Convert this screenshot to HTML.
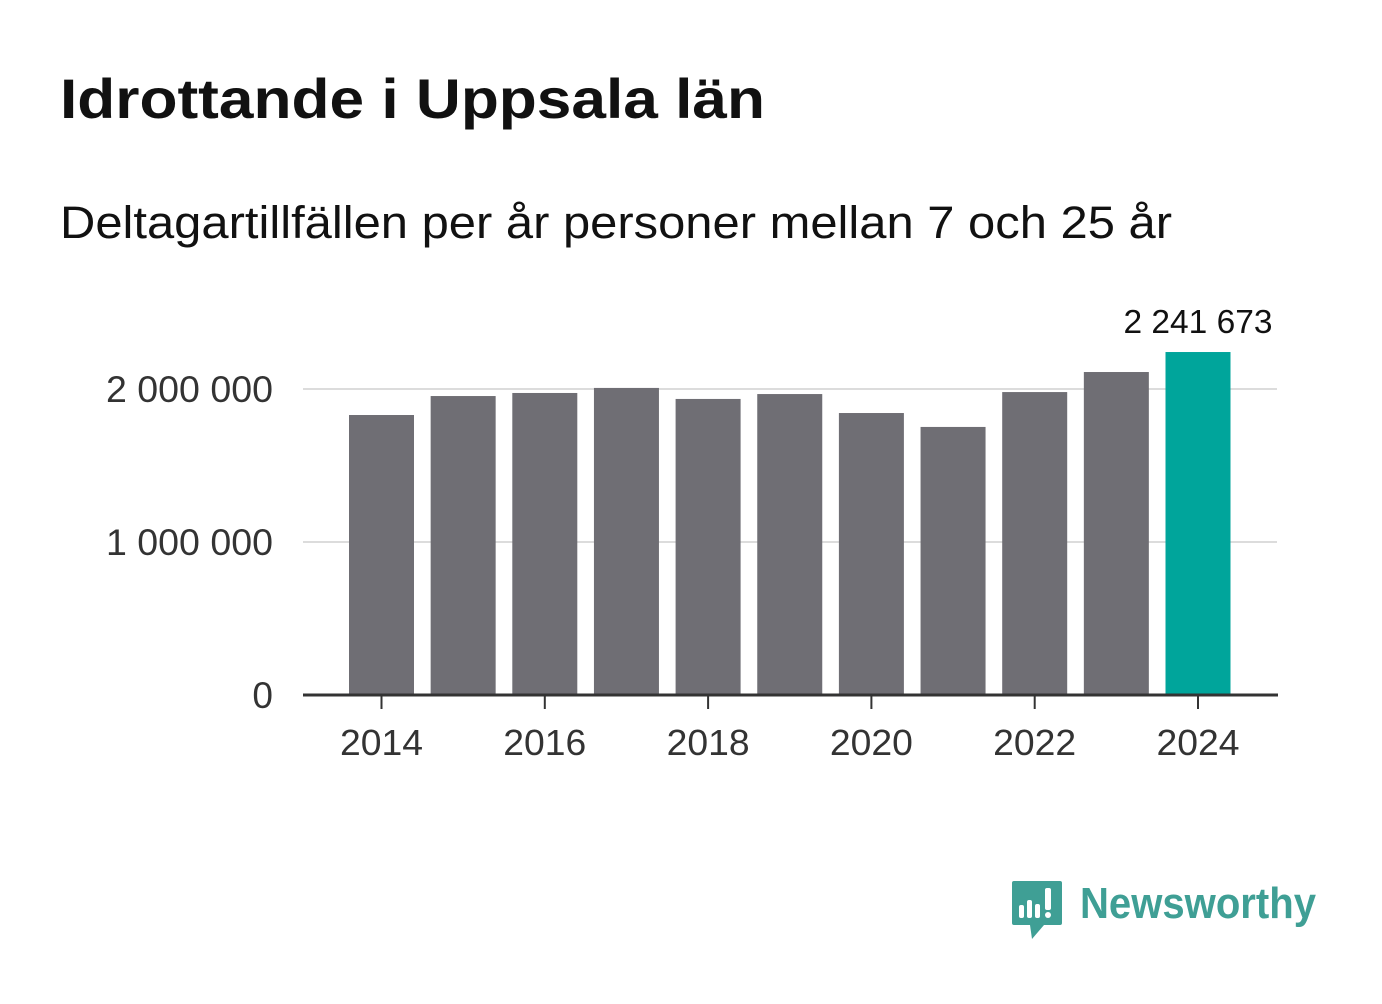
<!DOCTYPE html>
<html><head><meta charset="utf-8"><style>
body{margin:0;background:#fff;width:1382px;height:999px;overflow:hidden;font-family:"Liberation Sans",sans-serif}
</style></head><body>
<svg width="1382" height="999" xmlns="http://www.w3.org/2000/svg">
<text x="60" y="118" font-size="56" font-weight="bold" fill="#111" textLength="705" lengthAdjust="spacingAndGlyphs">Idrottande i Uppsala län</text>
<text x="60" y="238" font-size="45" fill="#111" textLength="1112" lengthAdjust="spacingAndGlyphs">Deltagartillfällen per år personer mellan 7 och 25 år</text>
<g id="grid"></g><g id="bars"></g><g id="axis"></g>
<g>
<path d="M1014 881 h46 a2 2 0 0 1 2 2 v40 a2 2 0 0 1 -2 2 h-16 l-12 14 l-2 -14 h-16 a2 2 0 0 1 -2 -2 v-40 a2 2 0 0 1 2 -2z" fill="#3f9f95"/>
<rect x="1019" y="905" width="5" height="13" rx="2" fill="#fff"/>
<rect x="1027" y="900" width="5" height="18" rx="2" fill="#fff"/>
<rect x="1035" y="904" width="5" height="14" rx="2" fill="#fff"/>
<rect x="1045" y="888" width="6" height="22" rx="2" fill="#fff"/>
<circle cx="1048" cy="915" r="3" fill="#fff"/>
<text x="1080" y="918" font-size="44" font-weight="bold" fill="#3f9f95" textLength="236" lengthAdjust="spacingAndGlyphs">Newsworthy</text>
</g>
</svg>
<script>
const years=[2014,2015,2016,2017,2018,2019,2020,2021,2022,2023,2024];
const values=[1830000,1954000,1974000,2007000,1935000,1967000,1843000,1752000,1980000,2111000,2241673];
const yTicks=[0,1000000,2000000];
const yTickLabels=["0","1 000 000","2 000 000"];
const xTickYears=[2014,2016,2018,2020,2022,2024];
const NS="http://www.w3.org/2000/svg";
const y=v=>695-v/1000000*153;
const x=yr=>381.5+(yr-2014)*81.65;
function mk(t,a,p){const e=document.createElementNS(NS,t);for(const k in a)e.setAttribute(k,a[k]);p.appendChild(e);return e;}
const grid=document.getElementById('grid'),bars=document.getElementById('bars'),axis=document.getElementById('axis');
yTicks.forEach((v,i)=>{
 if(v>0){const l=mk('line',{x1:303,x2:1277,y1:y(v),y2:y(v),stroke:'#dcdcdc','stroke-width':2},grid);
 
 }
 const t=mk('text',{x:273,y:y(v)+13,'text-anchor':'end','font-size':37,fill:'#333'},axis);t.textContent=yTickLabels[i];
 if(v>0){t.setAttribute('textLength',167);t.setAttribute('lengthAdjust','spacingAndGlyphs');}
 
 
});
years.forEach((yr,i)=>{
 const last=i===years.length-1;
 const r=mk('rect',{x:x(yr)-32.5,y:y(values[i]),width:65,height:695-y(values[i]),fill:last?'#00a59b':'#6f6e74'},bars);
 
 
 if(last){const t=mk('text',{x:x(yr),y:y(values[i])-19,'text-anchor':'middle','font-size':33,fill:'#111',textLength:149,lengthAdjust:'spacingAndGlyphs'},bars);
 t.textContent=values[i].toString().replace(/\B(?=(\d{3})+(?!\d))/g,' ');
 
 }
});
const ax=mk('line',{x1:303,x2:1278,y1:695,y2:695,stroke:'#333','stroke-width':3},axis);


xTickYears.forEach(yr=>{
 const tk=mk('line',{x1:x(yr),x2:x(yr),y1:695,y2:709,stroke:'#333','stroke-width':2},axis);
 
 
 const t=mk('text',{x:x(yr),y:755,'text-anchor':'middle','font-size':36,fill:'#333',textLength:83,lengthAdjust:'spacingAndGlyphs'},axis);t.textContent=yr;
 
 
});
</script>
</body></html>
